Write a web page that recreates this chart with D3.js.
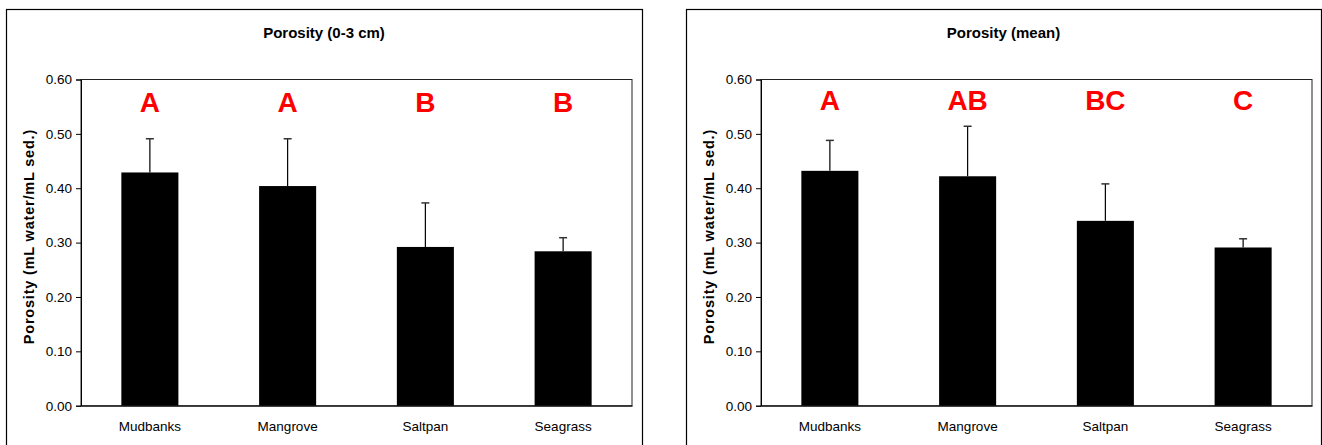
<!DOCTYPE html>
<html>
<head>
<meta charset="utf-8">
<script src="https://cdn.jsdelivr.net/npm/d3@7"></script>
<style>
  html, body { margin: 0; padding: 0; background: #fff; }
  svg { display: block; font-family: "Liberation Sans", Arial, sans-serif; }
</style>
</head>
<body>
<svg id="chart" width="1322" height="445"></svg>
<script>
// ---- Data ----
const categories = ["Mudbanks", "Mangrove", "Saltpan", "Seagrass"];
const yTicks = [0.0, 0.1, 0.2, 0.3, 0.4, 0.5, 0.6];

const surfaceTitle = "Porosity (0-3 cm)";
const surfaceMeans = [0.429, 0.404, 0.292, 0.284];
const surfaceErrors = [0.062, 0.087, 0.081, 0.025];
const surfaceLetters = ["A", "A", "B", "B"];

const meanTitle = "Porosity (mean)";
const meanMeans = [0.432, 0.422, 0.340, 0.291];
const meanErrors = [0.056, 0.092, 0.068, 0.016];
const meanLetters = ["A", "AB", "BC", "C"];

const yLabel = "Porosity (mL water/mL sed.)";

// ---- Layout ----
const svg = d3.select("#chart");
svg.append("rect").attr("width", 1322).attr("height", 445).attr("fill", "#fff");

const panels = [
  { x0: 6, x1: 642, title: surfaceTitle, means: surfaceMeans, errors: surfaceErrors, letters: surfaceLetters, letterY: 111.5 },
  { x0: 686, x1: 1321, title: meanTitle, means: meanMeans, errors: meanErrors, letters: meanLetters, letterY: 110 }
];

const plotTop = 79.5, plotBottom = 405.7, plotW = 551;

panels.forEach(p => {
  const g = svg.append("g");
  // outer box
  g.append("rect")
    .attr("x", p.x0 + 0.5).attr("y", 9.5)
    .attr("width", p.x1 - p.x0).attr("height", 460)
    .attr("fill", "none").attr("stroke", "#000").attr("stroke-width", 1.2);

  // title
  g.append("text")
    .attr("x", (p.x0 + p.x1) / 2).attr("y", 38)
    .attr("text-anchor", "middle")
    .attr("font-size", "15px").attr("font-weight", "bold")
    .text(p.title);

  const left = p.x0 + 75;
  const x = d3.scaleBand().domain(categories)
    .range([left, left + plotW])
    .paddingInner(0.586).paddingOuter(0.293);
  const y = d3.scaleLinear().domain([0, 0.6]).range([plotBottom, plotTop]);

  const data = categories.map((c, i) => ({ c, m: p.means[i], e: p.errors[i], l: p.letters[i] }));

  // plot frame
  g.append("rect")
    .attr("x", left).attr("y", y(0.6))
    .attr("width", plotW).attr("height", y(0) - y(0.6))
    .attr("fill", "none").attr("stroke", "#222").attr("stroke-width", 1);

  // bars
  g.selectAll(".bar").data(data).enter().append("rect")
    .attr("x", d => x(d.c)).attr("width", x.bandwidth())
    .attr("y", d => y(d.m)).attr("height", d => y(0) - y(d.m))
    .attr("fill", "#000");

  // error bars
  const cx = d => x(d.c) + x.bandwidth() / 2;
  g.selectAll(".err").data(data).enter().append("line")
    .attr("x1", cx).attr("x2", cx)
    .attr("y1", d => y(d.m)).attr("y2", d => y(d.m + d.e))
    .attr("stroke", "#000").attr("stroke-width", 1.2);
  g.selectAll(".cap").data(data).enter().append("line")
    .attr("x1", d => cx(d) - 4).attr("x2", d => cx(d) + 4)
    .attr("y1", d => y(d.m + d.e)).attr("y2", d => y(d.m + d.e))
    .attr("stroke", "#333").attr("stroke-width", 1.5);

  // letters
  g.selectAll(".let").data(data).enter().append("text")
    .attr("x", cx).attr("y", p.letterY)
    .attr("text-anchor", "middle")
    .attr("font-size", "28px").attr("font-weight", "bold")
    .attr("fill", "#ff0000")
    .text(d => d.l);

  // y axis
  const yAxis = g.append("g").attr("transform", `translate(${left},0)`)
    .call(d3.axisLeft(y).tickValues(yTicks).tickFormat(d3.format(".2f")).tickSize(5).tickPadding(4));
  yAxis.select(".domain").attr("stroke", "#000");
  yAxis.selectAll(".tick line").attr("stroke", "#000");
  yAxis.selectAll("text").attr("font-size", "13.5px").attr("fill", "#000")
    .attr("font-family", "'Liberation Sans', Arial, sans-serif");

  // x axis
  const xAxis = g.append("g").attr("transform", `translate(0,${plotBottom})`)
    .call(d3.axisBottom(x).tickSize(0).tickPadding(0));
  xAxis.select(".domain").attr("stroke", "#000");
  xAxis.selectAll("text").attr("font-size", "13.5px").attr("fill", "#000")
    .attr("font-family", "'Liberation Sans', Arial, sans-serif")
    .attr("dy", null).attr("y", 25);

  // y label
  g.append("text")
    .attr("transform", `translate(${p.x0 + 28},${(plotTop + plotBottom) / 2 - 6}) rotate(-90)`)
    .attr("text-anchor", "middle")
    .attr("font-size", "14.5px").attr("font-weight", "bold")
    .attr("letter-spacing", "0.8px")
    .text(yLabel);
});
</script>
</body>
</html>
